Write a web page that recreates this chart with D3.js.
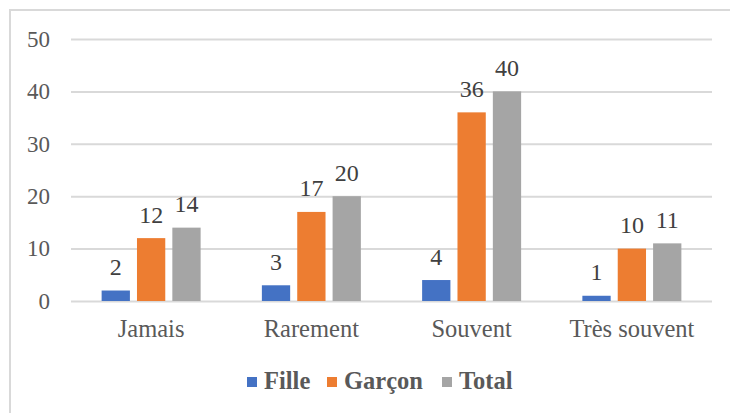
<!DOCTYPE html>
<html>
<head>
<meta charset="utf-8">
<script src="https://cdn.jsdelivr.net/npm/d3@7"></script>
<style>
  body { margin: 0; background: #fff; }
  svg { display: block; font-family: "Liberation Serif", "DejaVu Serif", serif; }
</style>
</head>
<body>
<svg id="chart" width="730" height="413"></svg>
<script>
const categories = ['Jamais', 'Rarement', 'Souvent', 'Très souvent'];
const seriesNames = ['Fille', 'Garçon', 'Total'];
const fille = [2, 3, 4, 1];
const garcon = [12, 17, 36, 10];
const total = [14, 20, 40, 11];
const yTicks = [0, 10, 20, 30, 40, 50];

const colors = { 'Fille': '#4472C4', 'Garçon': '#ED7D31', 'Total': '#A5A5A5' };
const values = { 'Fille': fille, 'Garçon': garcon, 'Total': total };

const svg = d3.select('#chart');
const margin = { left: 71, right: 18, top: 39, bottom: 112 };
const width = 730, height = 413;
const innerWidth = width - margin.left - margin.right;
const innerHeight = height - margin.top - margin.bottom;
const serif = '"Liberation Serif", "DejaVu Serif", serif';

// chart frame: only the left and top edges show in the picture
svg.append('path')
  .attr('d', `M10,${height} V10 H${width}`)
  .attr('fill', 'none').attr('stroke', '#d9d9d9').attr('stroke-width', 2);

const x0 = d3.scaleBand().domain(categories).range([0, innerWidth]).padding(0);
const groupWidth = 99;
const x1 = d3.scaleBand().domain(seriesNames).range([0, groupWidth]).paddingInner(0.2).paddingOuter(0);
const y = d3.scaleLinear().domain([0, 50]).range([innerHeight, 0]);

const g = svg.append('g').attr('transform', `translate(${margin.left},${margin.top})`);

// y axis with gridlines
const yAxis = d3.axisLeft(y).tickValues(yTicks).tickSize(-innerWidth).tickPadding(21);
const yAxisContainer = g.append('g').attr('class', 'y-axis-container').call(yAxis);
yAxisContainer.attr('font-family', serif).attr('font-size', '23px');
yAxisContainer.select('.domain').remove();
yAxisContainer.selectAll('line').attr('stroke', '#d9d9d9').attr('stroke-width', 2);
yAxisContainer.selectAll('text').attr('fill', '#595959');

// x axis labels
const xAxis = d3.axisBottom(x0).tickSize(0).tickPadding(19);
const xAxisContainer = g.append('g').attr('class', 'x-axis-container')
  .attr('transform', `translate(0,${innerHeight})`).call(xAxis);
xAxisContainer.attr('font-family', serif).attr('font-size', '24.5px');
xAxisContainer.select('.domain').remove();
xAxisContainer.selectAll('text').attr('fill', '#595959');

// bars
const data = categories.map((c, i) => ({ cat: c, items: seriesNames.map(s => ({ s, v: values[s][i] })) }));
const groups = g.selectAll('.grp').data(data).enter().append('g')
  .attr('class', 'grp')
  .attr('transform', d => `translate(${x0(d.cat) + (x0.bandwidth() - groupWidth) / 2},0)`);

groups.selectAll('rect').data(d => d.items).enter().append('rect')
  .attr('x', d => x1(d.s))
  .attr('width', x1.bandwidth())
  .attr('y', d => y(d.v))
  .attr('height', d => innerHeight - y(d.v))
  .attr('fill', d => colors[d.s]);

groups.selectAll('text.lbl').data(d => d.items).enter().append('text')
  .attr('class', 'lbl')
  .attr('x', d => x1(d.s) + x1.bandwidth() / 2)
  .attr('y', d => y(d.v) - 15.5)
  .attr('text-anchor', 'middle')
  .attr('fill', '#404040')
  .attr('font-family', serif)
  .attr('font-size', '24px')
  .text(d => d.v);

// legend
const legendX = [247, 327, 442];
const legend = svg.append('g').attr('transform', 'translate(0,382)');
seriesNames.forEach((s, i) => {
  legend.append('rect')
    .attr('x', legendX[i]).attr('y', -5).attr('width', 10).attr('height', 10)
    .attr('fill', colors[s]);
  legend.append('text')
    .attr('x', legendX[i] + 17).attr('y', 7)
    .attr('fill', '#595959')
    .attr('font-family', serif)
    .attr('font-size', '24.5px')
    .attr('font-weight', 'bold')
    .text(s);
});
</script>
</body>
</html>
